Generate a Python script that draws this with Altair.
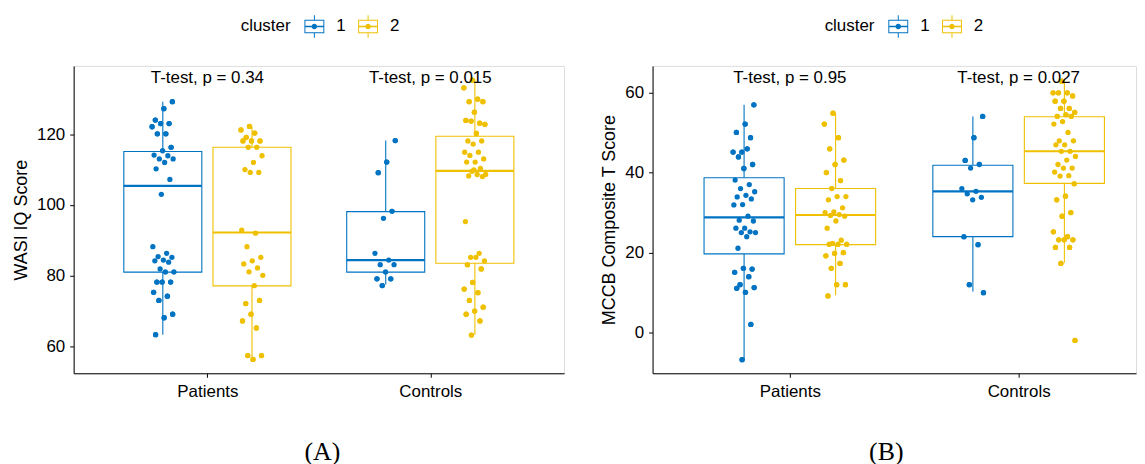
import altair as alt
import pandas as pd

BLUE = "#0073C2"
YELLOW = "#EFC000"
FONT = "Liberation Sans"

groups = ["Patients", "Controls"]
clusters = ["1", "2"]

# ---------------- WASI IQ Score (panel A) ----------------
wasi_patients_1 = [129.2, 127.2, 124.0, 123.0, 123.0, 122.1, 120.1, 120.1, 116.3, 115.3, 114.1,
                   113.9, 113.0, 113.0, 112.0, 110.2, 107.2, 103.0, 88.2, 86.3, 85.4, 85.2, 84.4,
                   84.2, 83.8, 81.9, 81.1, 81.1, 78.2, 78.2, 78.2, 75.3, 74.2, 73.0, 69.1, 68.1, 63.3]
wasi_patients_2 = [122.2, 121.2, 120.3, 119.1, 118.1, 118.1, 118.1, 116.3, 116.3, 113.9, 112.0,
                   110.0, 109.2, 109.2, 92.9, 92.0, 88.2, 85.2, 84.2, 83.3, 82.2, 81.1, 80.1, 77.2,
                   72.1, 73.0, 69.1, 67.2, 65.2, 57.4, 57.4, 56.3]
wasi_controls_1 = [118.2, 112.1, 109.1, 98.2, 96.2, 86.3, 84.4, 83.1, 83.1, 81.1, 79.1, 79.1, 77.2]
wasi_controls_2 = [135.3, 133.1, 129.9, 129.2, 129.2, 126.2, 123.9, 123.1, 123.7, 122.8, 120.2,
                   118.1, 118.1, 117.2, 114.9, 114.9, 114.0, 113.0, 112.1, 112.1, 110.3, 109.5,
                   108.6, 108.6, 108.2, 108.0, 109.9, 95.3, 86.3, 85.2, 84.2, 85.2, 83.1, 81.9,
                   78.1, 76.2, 75.2, 73.0, 71.1, 70.0, 69.1, 67.2, 63.2]
# box statistics, order: Patients-1, Patients-2, Controls-1, Controls-2
wasi_lower = [63.3, 56.3, 77.5, 63.2]
wasi_q1 = [81.0, 77.1, 81.0, 83.5]
wasi_median = [105.4, 92.2, 84.4, 109.6]
wasi_q3 = [115.1, 116.3, 98.1, 119.4]
wasi_upper = [129.2, 122.2, 118.2, 135.5]
wasi_pvals = ["T-test, p = 0.34", "T-test, p = 0.015"]

# ---------------- MCCB Composite T Score (panel B) ----------------
mccb_patients_1 = [56.9, 52.1, 50.0, 48.7, 45.1, 45.1, 45.9, 43.9, 42.0, 41.0, 38.1, 37.0, 36.0,
                   35.2, 34.3, 33.9, 33.4, 32.0, 31.9, 29.1, 28.1, 27.9, 26.1, 26.1, 25.2, 25.0,
                   25.0, 24.0, 21.1, 15.9, 16.1, 15.1, 14.0, 12.0, 11.3, 10.1, 11.1, 2.1, -6.7]
mccb_patients_2 = [54.8, 52.1, 48.7, 45.9, 43.1, 42.0, 40.0, 38.0, 36.0, 34.0, 34.0, 33.2, 31.2,
                   30.2, 30.0, 29.5, 29.3, 29.1, 27.9, 26.1, 23.1, 22.3, 22.1, 22.1, 22.1, 20.0,
                   19.8, 19.2, 17.3, 16.1, 12.0, 12.0, 9.2]
mccb_controls_1 = [54.0, 48.7, 43.0, 42.0, 41.1, 36.0, 35.3, 34.7, 33.8, 33.2, 24.0, 22.0, 12.0, 10.0]
mccb_controls_2 = [62.8, 59.9, 59.9, 59.9, 59.1, 57.8, 57.8, 56.0, 56.0, 55.0, 54.4, 54.0, 54.0,
                   52.7, 52.1, 50.0, 47.9, 47.9, 46.9, 46.9, 45.3, 45.3, 44.0, 43.1, 42.0, 41.1,
                   41.1, 40.1, 39.2, 39.1, 37.2, 34.1, 33.2, 30.0, 29.1, 25.2, 24.0, 23.2, 23.2,
                   23.2, 21.3, 21.3, 17.3, -1.9]
mccb_lower = [-6.7, 9.4, 10.3, 17.5]
mccb_q1 = [19.7, 22.0, 24.0, 37.3]
mccb_median = [28.8, 29.4, 35.3, 45.3]
mccb_q3 = [38.7, 36.0, 41.8, 53.9]
mccb_upper = [56.9, 54.8, 54.0, 63.1]
mccb_pvals = ["T-test, p = 0.95", "T-test, p = 0.027"]

# legend glyph: box with median, whiskers and a dot (unit-square path)
BOX_GLYPH = ("M-0.91,-0.61H0.91V0.61H-0.91Z"
             "M-0.82,-0.52V0.52H0.82V-0.52Z"
             "M-0.82,-0.07H0.82V0.07H-0.82Z"
             "M-0.045,-1.03H0.045V-0.61H-0.045Z"
             "M-0.045,0.61H0.045V1.03H-0.045Z"
             "M-0.25,0A0.25,0.25 0 1,1 0.25,0A0.25,0.25 0 1,1 -0.25,0Z")

JITTER = ("datum.gi + (datum.cluster == '1' ? -0.2 : 0.2)"
          " + (((datum.k * 0.618034 + (datum.cluster == '1' ? 0.31 : 0.77)) % 1) - 0.5) * 0.1")


def make_points(p1, p2, c1, c2):
    rows = []
    for g, cl, vals in [("Patients", "1", p1), ("Patients", "2", p2),
                        ("Controls", "1", c1), ("Controls", "2", c2)]:
        for k, v in enumerate(vals):
            rows.append({"group": g, "gi": groups.index(g) + 1, "cluster": cl, "k": k + 1, "value": v})
    return pd.DataFrame(rows)


def make_boxes(lower, q1, med, q3, upper):
    rows = []
    i = 0
    for g in groups:
        for cl in clusters:
            rows.append({"group": g, "gi": groups.index(g) + 1, "cluster": cl,
                         "lower": lower[i], "q1": q1[i], "median": med[i], "q3": q3[i], "upper": upper[i]})
            i += 1
    return pd.DataFrame(rows)


def panel(pts, boxes, pvals, label_y, ydomain, yticks, ytitle, xmax, width, caption, cap_dx, legend_x):
    xscale = alt.Scale(domain=[0.4, xmax], nice=False, zero=False)
    yscale = alt.Scale(domain=ydomain, nice=False, zero=False)
    cscale = alt.Scale(domain=clusters, range=[BLUE, YELLOW])
    xaxis = alt.Axis(values=[1, 2], labelExpr="datum.value == 1 ? 'Patients' : 'Controls'",
                     title=None, grid=False, tickSize=4, labelPadding=6, labelFontSize=17,
                     labelFont=FONT, labelColor="black", domainColor="black", tickColor="black",
                     labelFlush=False)
    yaxis = alt.Axis(values=yticks, title=ytitle, grid=False, tickSize=4, labelPadding=5,
                     labelFontSize=17, labelFont=FONT, labelColor="black", titleFontSize=18,
                     titleFont=FONT, titleFontWeight="normal", titleColor="black", titlePadding=6,
                     domainColor="black", tickColor="black", labelFlush=False)

    legend = alt.Legend(orient="none", legendX=legend_x, legendY=-51, direction="horizontal",
                        title="cluster", titleOrient="left", titleFontSize=17, titleFont=FONT,
                        titleFontWeight="normal", titleColor="black", titlePadding=12,
                        titleBaseline="middle", titleAnchor="middle",
                        labelFontSize=17, labelFont=FONT, labelColor="black", labelOffset=11,
                        columnPadding=11, symbolType=BOX_GLYPH, symbolSize=484,
                        symbolStrokeWidth=0, symbolOpacity=1, padding=0)
    pt = alt.Chart(pts).transform_calculate(xj=JITTER)
    # first layer carries the legend (placed first so Vega-Lite keeps it)
    dots_legend = pt.mark_circle(size=28, opacity=1).encode(
        x=alt.X("xj:Q", scale=xscale, axis=xaxis), y=alt.Y("value:Q", scale=yscale, axis=yaxis),
        color=alt.Color("cluster:N", scale=cscale, legend=legend))

    bx = (alt.Chart(boxes)
          .transform_calculate(xc="datum.gi + (datum.cluster == '1' ? -0.2 : 0.2)")
          .transform_calculate(xl="datum.xc - 0.175", xr="datum.xc + 0.175"))
    whisk = bx.mark_rule(strokeWidth=1.1).encode(
        x=alt.X("xc:Q", scale=xscale), y=alt.Y("lower:Q", scale=yscale), y2="upper:Q",
        stroke=alt.Stroke("cluster:N", scale=cscale, legend=None))
    box = bx.mark_rect(fill="white", strokeWidth=1.1).encode(
        x=alt.X("xl:Q", scale=xscale), x2="xr:Q",
        y=alt.Y("q1:Q", scale=yscale), y2="q3:Q",
        stroke=alt.Stroke("cluster:N", scale=cscale, legend=None))
    med = bx.mark_rule(strokeWidth=2.2).encode(
        x=alt.X("xl:Q", scale=xscale), x2="xr:Q",
        y=alt.Y("median:Q", scale=yscale),
        stroke=alt.Stroke("cluster:N", scale=cscale, legend=None))
    # points drawn again on top of the boxes
    dots = pt.mark_circle(size=28, opacity=1).encode(
        x=alt.X("xj:Q", scale=xscale), y=alt.Y("value:Q", scale=yscale),
        fill=alt.Fill("cluster:N", scale=cscale, legend=None))

    lab_df = pd.DataFrame({"gi": [1, 2], "label": pvals, "ly": [label_y, label_y]})
    labels = alt.Chart(lab_df).mark_text(fontSize=17, font=FONT, color="black",
                                         baseline="alphabetic").encode(
        x=alt.X("gi:Q", scale=xscale), y=alt.Y("ly:Q", scale=yscale), text="label:N")

    return alt.layer(dots_legend, whisk, box, med, dots, labels).properties(
        width=width, height=309,
        title=alt.TitleParams(text=caption, orient="bottom", anchor="middle", frame="group",
                              font="Liberation Serif", fontSize=26, fontWeight="normal",
                              color="black", offset=40, dx=cap_dx))


left = panel(make_points(wasi_patients_1, wasi_patients_2, wasi_controls_1, wasi_controls_2),
             make_boxes(wasi_lower, wasi_q1, wasi_median, wasi_q3, wasi_upper),
             wasi_pvals, 134.5, [52.4, 139.3], [60, 80, 100, 120], "WASI IQ Score",
             2.6, 493, "(A)", 3.5, 168)
right = panel(make_points(mccb_patients_1, mccb_patients_2, mccb_controls_1, mccb_controls_2),
              make_boxes(mccb_lower, mccb_q1, mccb_median, mccb_q3, mccb_upper),
              mccb_pvals, 62.4, [-10.1, 66.6], [0, 20, 40, 60], "MCCB Composite T Score",
              0.4 + 486 / 230, 486, "(B)", -8, 173)

chart = (alt.hconcat(left, right, spacing=35)
         .resolve_scale(color="independent", stroke="independent", fill="independent",
                        x="independent", y="independent")
         .resolve_legend(color="independent")
         .configure_view(stroke=None)
         .configure(font=FONT)
         .properties(padding={"left": 4, "top": 5, "right": 0, "bottom": 0}, background="white"))

chart.save("out.html", embed_options={"renderer": "svg", "actions": False})
